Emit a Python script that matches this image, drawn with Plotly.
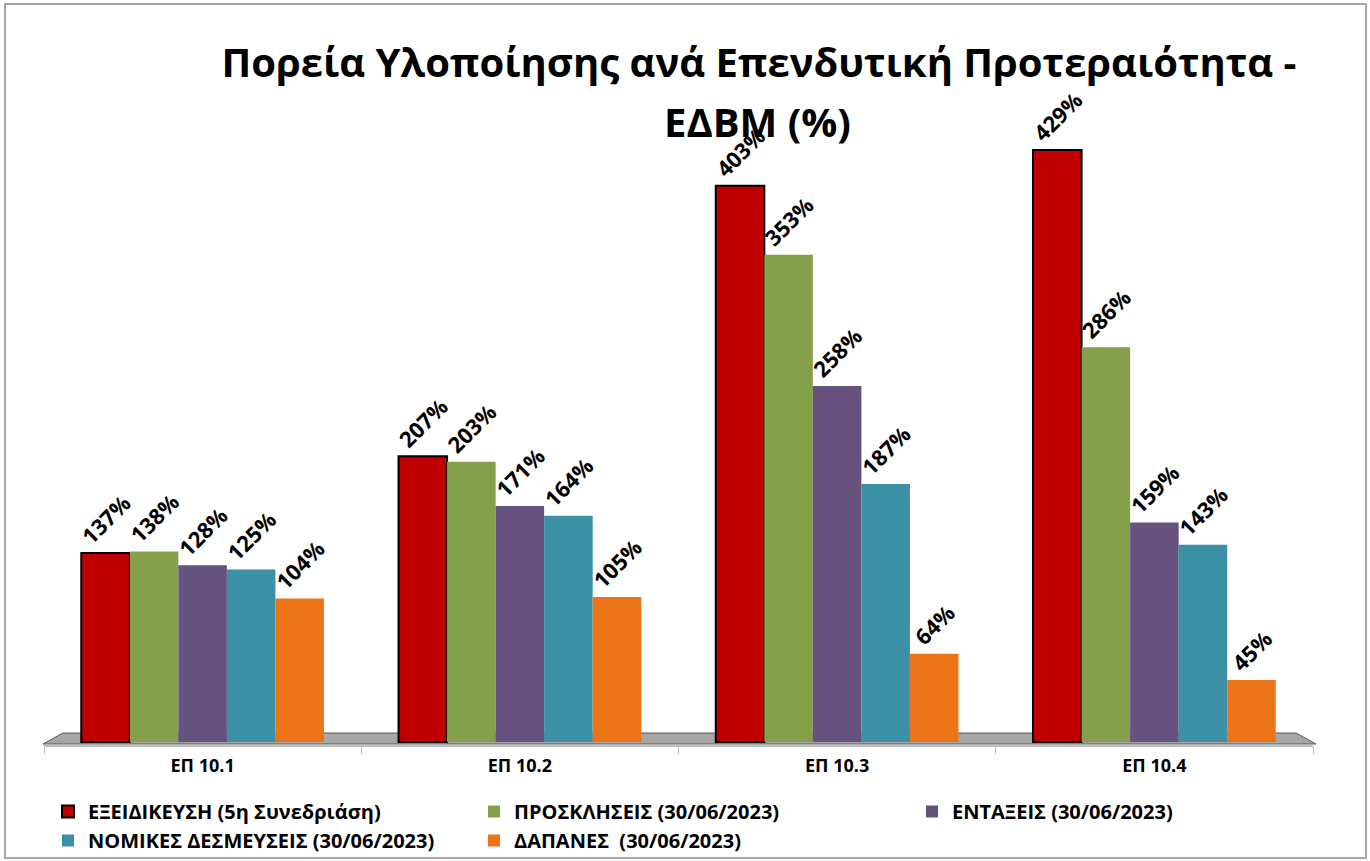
import plotly.graph_objects as go

# ---- data ----
categories = ['ΕΠ 10.1', 'ΕΠ 10.2', 'ΕΠ 10.3', 'ΕΠ 10.4']
series_names = [
    'ΕΞΕΙΔΙΚΕΥΣΗ (5η Συνεδριάση)',
    'ΠΡΟΣΚΛΗΣΕΙΣ (30/06/2023)',
    'ΕΝΤΑΞΕΙΣ (30/06/2023)',
    'ΝΟΜΙΚΕΣ ΔΕΣΜΕΥΣΕΙΣ (30/06/2023)',
    'ΔΑΠΑΝΕΣ  (30/06/2023)',
]
exeidikeysi = [137, 207, 403, 429]
proskliseis = [138, 203, 353, 286]
entaxeis = [128, 171, 258, 159]
nomikes = [125, 164, 187, 143]
dapanes = [104, 105, 64, 45]

values = [exeidikeysi, proskliseis, entaxeis, nomikes, dapanes]
colors = ['#c00000', '#84a04a', '#66517f', '#3b90a6', '#ec7418']
legends = ['legend', 'legend2', 'legend3', 'legend', 'legend2']

FONT = 'Open Sans'
W, H = 1370, 861
# plot area in pixels (same frame as the reference picture)
L, R, T, B = 44, 1313, 130, 745
BASE = 742          # pixel row of value 0
SCALE = 1.38        # pixels per percentage point
pw, ph = R - L, B - T


def px(xp):
    return (xp - L) / pw


def py(yp):
    return (B - yp) / ph


fig = go.Figure()

for name, vals, col, lg in zip(series_names, values, colors, legends):
    red = col == '#c00000'
    fig.add_trace(go.Bar(
        x=categories, y=vals, name=name,
        marker=dict(color=col, line=dict(color='#000000' if red else col, width=2 if red else 0)),
        text=[f'{v}%' for v in vals],
        textposition='outside', textangle=-45, constraintext='none',
        textfont=dict(family=FONT, size=22, color='#000000', weight='bold'),
        cliponaxis=False,
        legend=lg,
    ))

# floor of the old 3D chart
floor = [(43, 744), (63, 733), (1296, 733), (1316, 744)]
path = 'M ' + ' L '.join(f'{px(a):.5f},{py(b):.5f}' for a, b in floor) + ' Z'
fig.add_shape(type='path', path=path, xref='paper', yref='paper',
              fillcolor='#a6a6a6', line=dict(color='#595959', width=1), layer='below')

# chart border
fig.add_shape(type='rect', xref='paper', yref='paper',
              x0=px(5), x1=px(1366), y0=py(858), y1=py(4),
              line=dict(color='#a6a6a6', width=2), fillcolor='rgba(0,0,0,0)', layer='below')

# second title line (kept apart for the wider line spacing)
fig.add_annotation(text='ΕΔΒΜ (%)', xref='paper', yref='paper',
                   x=px(757), y=py(121), xanchor='center', yanchor='middle', showarrow=False,
                   font=dict(family=FONT, size=40, color='#000000', weight='bold'))

legend_style = dict(font=dict(family=FONT, size=20, color='#000000', weight='bold'),
                    orientation='v', xanchor='left', yanchor='top',
                    bgcolor='rgba(0,0,0,0)', tracegroupgap=0)

fig.update_layout(
    width=W, height=H,
    margin=dict(l=L, r=W - R, t=T, b=H - B, autoexpand=False),
    paper_bgcolor='white', plot_bgcolor='white',
    barmode='group', bargap=0.235, bargroupgap=0,
    title=dict(text='Πορεία Υλοποίησης ανά Επενδυτική Προτεραιότητα -',
               x=759 / W, xanchor='center', y=1 - 63 / H, yanchor='middle',
               font=dict(family=FONT, size=40, color='#000000', weight='bold')),
    xaxis=dict(showgrid=False, showline=True, linecolor='#bfbfbf', linewidth=1.5,
               ticks='outside', tickson='boundaries', ticklen=7, tickcolor='#bfbfbf',
               ticklabelstandoff=4,
               tickfont=dict(family=FONT, size=18, color='#000000', weight='bold')),
    yaxis=dict(range=[-(B - BASE) / SCALE, (BASE - T) / SCALE],
               visible=False, showgrid=False, zeroline=False),
    legend=dict(x=px(48), y=py(792), **legend_style),
    legend2=dict(x=px(474), y=py(792), **legend_style),
    legend3=dict(x=px(912), y=py(792), **legend_style),
    showlegend=True,
)

# page body margin would push the figure 8px off the reference frame
fig.write_html('out.html', config={'displayModeBar': False},
               post_script="document.body.style.margin='0';")
